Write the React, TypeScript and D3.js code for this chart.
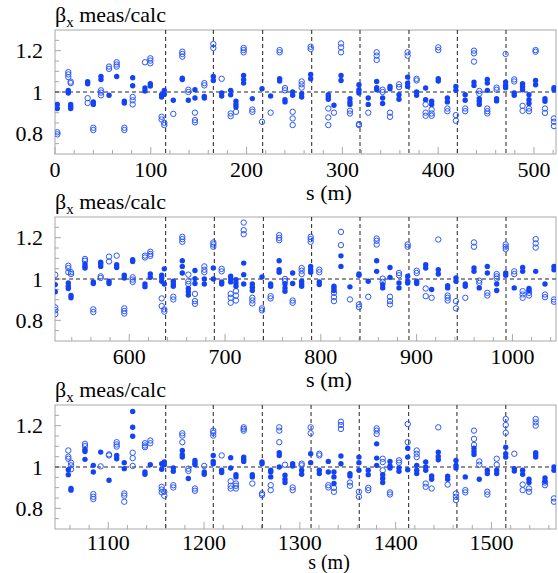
import React from 'react';
import * as d3 from 'd3';

// Arc 1: 0 – 523 m
const ring1S = [2.4, 13.9, 16.4, 34.1, 40.0, 48.0, 56.4, 64.4, 72.4, 81.1, 93.9, 99.5, 111.3, 114.1, 123.5, 132.9, 139.2, 146.1, 155.9, 165.3, 174.0, 183.4, 188.9, 196.9, 206.0, 216.1, 225.1, 234.5, 240.1, 248.1, 257.5, 266.9, 285.3, 291.2, 298.6, 307.9, 317.3, 327.0, 335.8, 342.0, 349.7, 359.1, 368.1, 377.5, 386.9, 393.2, 400.1, 409.6, 418.5, 428.2, 437.4, 442.9, 451.3, 461.0, 470.4, 479.4, 488.1, 494.8, 501.7, 511.5, 520.9];
const ring1Filled = [[0.94, 0.92], [1.008, 0.995], [0.94, 0.93, 0.92], [1.05, 1.04], [0.952, 0.94], [1.075, 1.06], [0.984], [1.075], [0.955, 0.947], [1.069, 1.03], [1.019, 1.005], [1.04, 1.029], [0.987, 0.976], [1.008, 0.989], [0.96], [1.067, 1.06], [0.96], [1.011, 0.971], [0.979, 0.971], [1.075, 1.056], [0.995, 0.981], [1.008, 0.987], [0.955, 0.94, 0.928], [1.08, 1.06, 1.043], [0.968], [1.016], [0.981], [1.064, 1.053], [0.963, 0.952], [1.0, 0.984], [0.992, 0.976], [1.085, 1.064], [0.987, 0.976, 0.965], [0.936], [1.08, 1.056], [0.968, 0.952, 0.94], [1.035, 1.011, 0.995], [0.971, 0.94], [1.051, 1.021, 1.011], [0.971, 0.944], [1.027, 1.016], [0.987, 0.965], [1.072, 1.043, 1.027], [1.0, 0.984], [1.019, 0.963], [0.955, 0.94], [1.064, 1.053], [0.971, 0.952], [1.027, 1.008], [0.987, 0.96], [1.048, 1.032], [0.968, 0.955, 0.94], [1.061, 1.043, 1.008], [0.968, 0.957], [1.048, 1.032, 1.021], [0.995, 0.984], [1.04, 1.027, 1.011], [0.987, 0.963, 0.944], [1.056, 1.035], [0.968, 0.955], [1.021, 1.011]];
const ring1Open = [[0.805, 0.795], [1.096, 1.085, 1.072], [1.05, 1.043], [0.97, 0.947], [0.827, 0.816], [1.008, 0.997, 0.984], [1.123, 1.112], [1.144, 1.133, 1.123], [0.827, 0.816], [0.976, 0.96, 0.94], [1.144], [1.163, 1.152, 1.139], [0.88, 0.867], [0.851, 0.84], [0.894], [1.195, 1.184, 1.171], [1.011, 1.0], [0.9, 0.864, 0.853], [1.043, 1.032], [1.232, 1.213], [1.064], [0.896, 0.883], [0.904], [1.213, 1.203, 1.192], [0.915, 0.904], [0.856], [0.9], [1.203, 1.192], [1.019, 1.008], [0.904, 0.872, 0.84], [1.051, 1.037, 1.021], [1.219, 1.208], [0.92, 0.877, 0.84], [0.9], [1.235, 1.216, 1.192], [0.909, 0.896], [0.845, 0.84], [0.9], [1.192, 1.176, 1.155], [1.011, 1.0], [0.9, 0.88], [1.037, 1.024], [1.192, 1.176], [1.064, 1.056], [0.94, 0.9, 0.885], [0.915, 0.896, 0.885], [1.216, 1.203], [0.92, 0.907], [0.888, 0.861], [0.92, 0.907], [1.2, 1.187, 1.147], [1.005, 0.992], [0.92, 0.907, 0.896], [1.021, 1.011], [1.184], [1.061, 1.051], [0.933, 0.909], [0.92, 0.907], [1.203, 1.195], [0.92, 0.899], [0.872, 0.856, 0.835]];
const ring1Markers = [115.5, 165.3, 216.8, 268, 318.4, 369.5, 420, 470.8];

// Arc 2: 522.5 – 1045.5 m
const ring2S = [522.8, 536.4, 539.2, 553.8, 562.5, 570.2, 578.9, 586.9, 594.8, 603.6, 616.4, 622.0, 633.9, 636.6, 646.0, 655.4, 661.7, 668.6, 678.4, 687.8, 696.5, 705.9, 711.4, 719.5, 728.5, 738.6, 747.6, 756.5, 762.6, 770.6, 780.0, 789.4, 798.4, 813.7, 821.0, 830.4, 839.8, 849.5, 858.3, 864.6, 872.2, 881.6, 890.7, 900.1, 909.5, 915.7, 922.6, 932.4, 941.1, 950.8, 959.9, 965.4, 973.8, 983.6, 993.0, 1001.9, 1010.7, 1017.3, 1024.3, 1034.0, 1043.4];
const ring2Filled = [[0.973, 0.938], [0.981, 0.965, 0.954], [0.92, 0.909], [1.072, 1.061, 1.053], [0.986, 0.978], [1.081, 1.072, 1.061], [0.989, 0.978], [1.069, 1.056], [1.018, 1.005], [1.093, 1.085], [0.976, 0.963], [1.024, 1.008], [1.018, 1.005, 0.989], [1.049, 0.976], [0.989, 0.976, 0.965], [1.088, 1.061, 1.029], [0.954, 0.938, 0.922], [1.041, 1.002, 0.978], [1.0, 0.976], [1.053, 1.0], [0.986, 0.976], [1.013, 1.0, 0.986], [0.997, 0.981, 0.965], [1.077, 1.021, 0.976], [0.976, 0.96, 0.944], [1.01], [0.976, 0.965], [1.088, 1.045, 1.033], [0.976, 0.957, 0.941], [1.029, 0.978], [0.989, 0.976, 0.965], [1.061, 1.045, 1.033], [0.986, 0.973], [0.965, 0.954, 0.944], [1.112, 1.061], [0.962], [1.024, 1.018], [0.989], [1.088, 1.037], [0.973, 0.957], [1.056, 1.008], [0.981, 0.957], [1.013, 0.989, 0.981], [0.989, 0.978], [1.069, 1.053], [0.949], [1.045, 1.024], [0.968, 0.957], [1.005, 0.989], [0.976, 0.965], [1.053, 1.037], [0.957], [1.061, 1.029], [0.976, 0.944], [1.029, 1.018], [0.957], [1.056, 1.037], [0.954, 0.944], [1.037], [0.976], [1.061, 1.045]];
const ring2Open = [[1.02, 0.862, 0.849, 0.83], [1.064, 1.053, 1.033], [1.033, 1.024], [1.097, 1.088], [0.853, 0.84], [1.013, 1.005], [1.108, 1.085], [1.113], [0.858, 0.845, 0.833], [1.008, 0.997, 0.986], [1.113, 1.104], [1.132, 1.121, 1.112], [0.906, 0.869], [0.853, 0.842], [0.914, 0.901], [1.204, 1.193, 1.18], [1.021, 0.989, 0.976], [0.928, 0.893, 0.88], [1.061, 1.045, 1.033], [1.177, 1.167, 1.156], [1.049, 1.037], [0.928, 0.909, 0.885], [0.941, 0.92, 0.896], [1.273, 1.236, 1.217], [0.909, 0.896, 0.882], [0.858, 0.848], [0.917, 0.906], [1.212, 1.199, 1.188], [1.0, 0.989], [0.896, 0.885], [1.053, 1.04, 1.024], [1.204, 1.193, 1.18], [1.045, 1.033], [0.933, 0.912, 0.893], [1.228, 1.164], [0.901], [0.877, 0.864], [0.914], [1.196, 1.185, 1.167], [1.002, 0.986], [0.914, 0.893, 0.877], [1.029, 1.018], [1.167, 1.156], [1.04, 1.029], [0.954, 0.917], [0.909], [1.191], [0.92, 0.909, 0.896], [0.893, 0.858], [0.909], [1.177, 1.156], [0.992, 0.981], [0.933, 0.92], [1.024, 1.013, 1.002], [1.167, 1.156, 1.145], [1.037, 1.024], [0.941, 0.925, 0.909], [0.933, 0.92], [1.193, 1.172, 1.152], [0.925, 0.912], [0.901, 0.89]];
const ring2Markers = [638, 688.8, 740, 790.4, 840.9, 892, 942.4, 993.3];

// Arc 3: 1044.4 – 1567.4 m
const ring3S = [1058.3, 1061.1, 1075.7, 1084.4, 1092.1, 1100.8, 1108.8, 1116.7, 1125.5, 1138.3, 1143.9, 1155.8, 1158.5, 1167.9, 1177.3, 1183.6, 1190.5, 1200.2, 1209.6, 1218.4, 1227.8, 1233.3, 1241.4, 1250.4, 1260.5, 1269.6, 1278.5, 1284.5, 1292.5, 1301.9, 1311.3, 1320.3, 1329.7, 1335.6, 1342.9, 1352.3, 1361.7, 1371.4, 1380.2, 1386.5, 1394.1, 1403.5, 1412.6, 1422.0, 1431.4, 1437.6, 1444.5, 1454.3, 1463.0, 1472.7, 1481.8, 1487.3, 1495.7, 1505.5, 1514.9, 1523.9, 1532.6, 1539.2, 1546.2, 1555.9, 1565.3];
const ring3Filled = [[0.987, 0.963], [0.896, 0.888], [1.085, 1.075, 1.037], [1.008, 0.976], [1.072], [0.936], [1.056, 1.04], [1.021, 0.992], [1.269, 1.192, 1.149], [0.976, 0.965], [1.011], [1.016, 0.989], [1.024, 1.011], [0.995, 0.979], [1.08, 1.059, 1.048], [0.944], [1.032, 1.019, 1.011], [0.976, 0.965], [1.056, 1.027, 1.016], [0.984, 0.973], [1.045, 0.995], [0.963, 0.952], [1.048, 1.037, 1.027], [0.963, 0.952], [1.024, 1.016], [0.984, 0.976, 0.952], [1.069, 1.056, 1.0], [0.96, 0.941, 0.925], [1.016, 1.005], [0.984, 0.965], [1.064, 1.021], [0.984, 0.968], [1.027, 0.976], [0.976, 0.952, 0.92], [1.053, 1.016], [0.968, 0.957], [1.048, 1.021, 0.984], [0.984, 0.963], [1.112, 1.043, 1.008], [0.963, 0.944, 0.925], [1.027, 1.005, 0.995], [0.995, 0.979], [1.091, 1.048, 0.987], [1.008, 0.984, 0.968], [1.024, 1.0, 0.984], [0.957, 0.941], [1.072, 1.051, 1.035], [0.955, 0.941], [1.032, 1.008, 0.995], [0.952], [1.091, 1.075, 1.061], [0.941], [0.984, 0.968], [0.984, 0.968], [1.096, 1.064, 1.048], [0.992, 0.981], [0.984, 0.965], [0.941, 0.925], [1.069, 1.059, 1.048], [0.947, 0.931], [1.0, 0.984]];
const ring3Open = [[1.08, 1.05, 1.04], [1.021, 1.008, 0.989], [1.112, 1.101], [0.869, 0.856, 0.845], [1.003], [1.061, 1.056], [1.12, 1.109, 1.099], [0.872, 0.861, 0.832], [1.069, 1.043, 1.005], [1.115, 1.104, 1.096], [1.128, 1.115], [0.904, 0.891, 0.877], [0.88, 0.861], [0.912, 0.901], [1.163, 1.152, 1.12], [0.992, 0.981], [0.896, 0.885], [1.005], [1.176, 1.165, 1.152], [1.056], [0.931, 0.909, 0.896], [0.92, 0.909, 0.896], [1.192, 1.184, 1.176], [0.92], [0.872, 0.864], [0.912, 0.888], [1.192, 1.176, 1.12], [1.011], [0.901, 0.888], [1.016, 1.008], [1.192, 1.163], [1.064, 1.056], [0.912, 0.901], [0.899, 0.88], [1.219, 1.203, 1.184], [0.925, 0.909], [0.88, 0.856], [0.899, 0.888], [1.187, 1.176, 1.16], [1.04, 1.024, 0.984], [0.877, 0.867], [1.032, 1.021], [1.208, 1.12], [1.08, 1.064, 1.048], [0.92, 0.904], [0.896], [1.192], [0.915], [0.872, 0.856, 0.84], [0.888, 0.877], [1.176, 1.136, 1.107], [1.027, 1.011], [0.88, 0.867], [1.04, 1.011], [1.232, 1.203, 1.165], [1.064], [0.915, 0.888], [0.896, 0.88], [1.232, 1.216, 1.2], [0.925, 0.912], [0.848, 0.832]];
const ring3Markers = [1160, 1209.6, 1260.8, 1311.7, 1362, 1413.6, 1464, 1515];

const yDomain: [number, number] = [0.7, 1.3];
const yLabelTicks = [0.8, 1, 1.2];

const W = 558;
const H = 573;
const LEFT = 55;
const RIGHT = 556;
const PANEL_H = 124;
const FONT = "'Times New Roman', 'Liberation Serif', 'DejaVu Serif', Times, serif";
const BLUE = '#1443f5';
const OPEN_BLUE = '#2a58ff';
const FRAME = '#a8a8a8';

const panels = [
  { top: 30, domain: [0, 523], s: ring1S, filled: ring1Filled, open: ring1Open, markers: ring1Markers, tickY: 22.5, xTitleY: 200, xTitleSize: 22 },
  { top: 217, domain: [522.5, 1045.5], s: ring2S, filled: ring2Filled, open: ring2Open, markers: ring2Markers, tickY: 22.5, xTitleY: 386.5, xTitleSize: 22 },
  { top: 405, domain: [1044.4, 1567.4], s: ring3S, filled: ring3Filled, open: ring3Open, markers: ring3Markers, tickY: 21, xTitleY: 569, xTitleSize: 20 },
];

const textStyle = { fontFamily: FONT };

function Panel({ cfg, idx }: { cfg: typeof panels[number]; idx: number }) {
  const bottom = cfg.top + PANEL_H;
  const x = d3.scaleLinear().domain(cfg.domain).range([LEFT, RIGHT]);
  const y = d3.scaleLinear().domain(yDomain).range([bottom, cfg.top]);
  const xTicks = d3.range(Math.ceil(cfg.domain[0] / 20) * 20, cfg.domain[1] + 0.001, 20);
  const yTicks = d3.range(0.75, 1.3, 0.05).map((v) => Math.round(v * 100) / 100);
  const clipId = `plot-clip-${idx}`;

  return (
    <g>
      <defs>
        <clipPath id={clipId}>
          <rect x={LEFT} y={cfg.top} width={RIGHT - LEFT} height={PANEL_H} />
        </clipPath>
      </defs>

      {/* title */}
      <text x={LEFT} y={cfg.top - 8.5} style={textStyle} fontSize={22} fill="#000">
        β<tspan dy={5} fontSize={15}>x</tspan>
        <tspan dy={-5}> meas/calc</tspan>
      </text>

      {/* frame */}
      <rect x={LEFT} y={cfg.top} width={RIGHT - LEFT} height={PANEL_H} fill="none" stroke={FRAME} strokeWidth={1} />

      {/* x ticks */}
      {xTicks.map((t) => {
        const major = Math.round(t) % 100 === 0;
        return (
          <line key={`xt${t}`} x1={x(t)} x2={x(t)} y1={bottom} y2={bottom - (major ? 7 : 4)} stroke={FRAME} strokeWidth={1} />
        );
      })}
      {xTicks.filter((t) => Math.round(t) % 100 === 0).map((t) => (
        <text key={`xl${t}`} x={x(t)} y={bottom + cfg.tickY} textAnchor="middle" style={textStyle} fontSize={22} fill="#000">
          {d3.format('d')(t)}
        </text>
      ))}

      {/* y ticks */}
      {yTicks.map((t) => {
        const major = yLabelTicks.some((m) => Math.abs(m - t) < 1e-6);
        return (
          <line key={`yt${t}`} x1={LEFT} x2={LEFT + (major ? 6 : 4)} y1={y(t)} y2={y(t)} stroke={FRAME} strokeWidth={1} />
        );
      })}
      {yLabelTicks.map((t) => (
        <text key={`yl${t}`} x={43} y={y(t) + 7.5} textAnchor="end" style={textStyle} fontSize={22} fill="#000">
          {t === 1 ? '1' : d3.format('.1f')(t)}
        </text>
      ))}

      {/* reference lines */}
      <line x1={LEFT} x2={RIGHT} y1={y(1)} y2={y(1)} stroke="#222" strokeWidth={1} strokeDasharray="4,3" />
      {cfg.markers.map((m) => (
        <line key={`m${m}`} x1={x(m)} x2={x(m)} y1={cfg.top} y2={bottom} stroke="#222" strokeWidth={1} strokeDasharray="4,3" />
      ))}

      {/* measurements */}
      <g clipPath={`url(#${clipId})`}>
        {cfg.s.map((s, i) =>
          cfg.open[i].map((v, j) => (
            <circle key={`o${i}-${j}`} cx={x(s)} cy={y(v)} r={2.7} fill="none" stroke={OPEN_BLUE} strokeWidth={1} />
          ))
        )}
        {cfg.s.map((s, i) =>
          cfg.filled[i].map((v, j) => (
            <circle key={`f${i}-${j}`} cx={x(s)} cy={y(v)} r={2.7} fill={BLUE} />
          ))
        )}
      </g>

      {/* x axis title */}
      <text x={329} y={cfg.xTitleY} textAnchor="middle" style={textStyle} fontSize={cfg.xTitleSize} fill="#000">
        s (m)
      </text>
    </g>
  );
}

export default function App() {
  return (
    <svg width={W} height={H} style={{ position: 'absolute', left: 0, top: 0, background: '#fff' }}>
      <rect width={W} height={H} fill="#fff" />
      {panels.map((p, i) => (
        <Panel key={i} cfg={p} idx={i} />
      ))}
    </svg>
  );
}
